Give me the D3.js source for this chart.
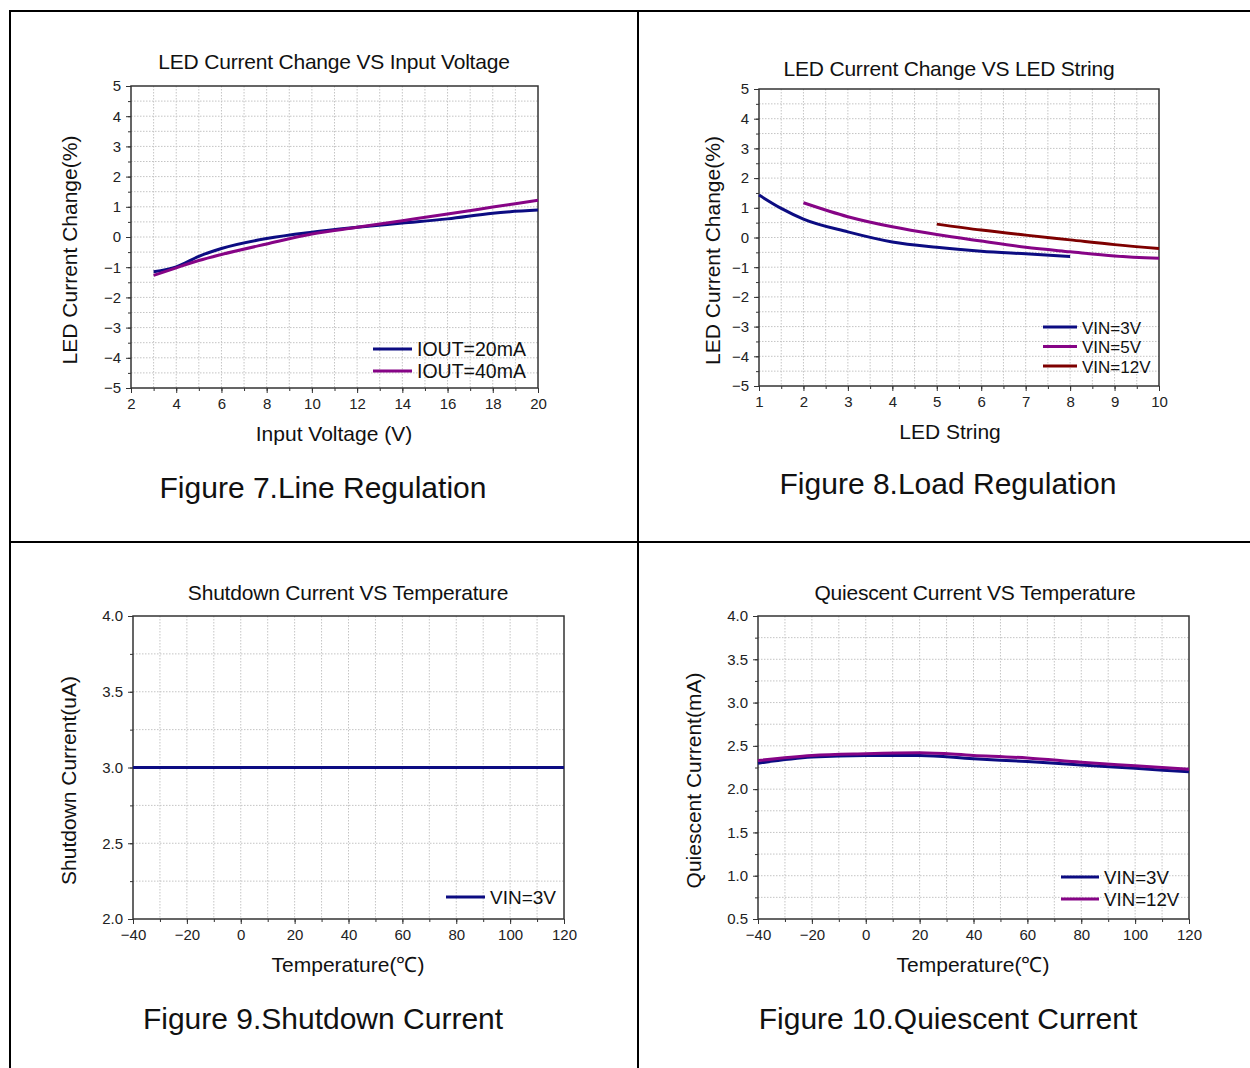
<!DOCTYPE html>
<html>
<head>
<meta charset="utf-8">
<script src="https://cdn.jsdelivr.net/npm/d3@7"></script>
<style>
  body { margin: 0; background: #fff; }
  svg { display: block; font-family: "Liberation Sans", Arial, sans-serif; }
  .grid line { stroke: #c4c4c4; stroke-width: 1; stroke-dasharray: 1.5,1.5; }
  .tick text { fill: #222; }
</style>
</head>
<body>
<svg id="chart" width="1250" height="1068"></svg>
<script>
// Figure 7 - line regulation
var vin = [3, 4, 5, 6, 8, 10, 12, 14, 16, 18, 20];
var iout20 = [-1.15, -0.99, -0.64, -0.38, -0.05, 0.16, 0.32, 0.46, 0.6, 0.79, 0.89];
var iout40 = [-1.27, -1.02, -0.78, -0.58, -0.23, 0.1, 0.32, 0.54, 0.76, 0.99, 1.22];

// Figure 8 - load regulation
var str3 = [1, 1.5, 2, 3, 4, 5, 6, 7, 8];
var vin3 = [1.43, 0.98, 0.62, 0.19, -0.15, -0.33, -0.46, -0.55, -0.64];
var str5 = [2, 3, 4, 5, 6, 7, 8, 9, 10];
var vin5 = [1.17, 0.7, 0.36, 0.1, -0.12, -0.33, -0.48, -0.62, -0.7];
var str12 = [5, 6, 7, 8, 9, 10];
var vin12 = [0.45, 0.25, 0.08, -0.08, -0.24, -0.37];

// Figure 9 - shutdown current
var tempSd = [-40, 120];
var sdVin3 = [3.0, 3.0];

// Figure 10 - quiescent current
var temp = [-40, -20, 0, 20, 40, 60, 80, 100, 120];
var iqVin3 = [2.30, 2.37, 2.39, 2.39, 2.35, 2.32, 2.28, 2.24, 2.20];
var iqVin12 = [2.33, 2.39, 2.41, 2.42, 2.39, 2.36, 2.31, 2.27, 2.23];

var NAVY = "#0c0c82", PURPLE = "#860486", MAROON = "#7e0000";
var svg = d3.select("#chart");

// panel borders
svg.append("line").attr("x1", 9).attr("x2", 1250).attr("y1", 11).attr("y2", 11).attr("stroke", "#000").attr("stroke-width", 2);
svg.append("line").attr("x1", 10).attr("x2", 10).attr("y1", 10).attr("y2", 1068).attr("stroke", "#000").attr("stroke-width", 2);
svg.append("line").attr("x1", 638).attr("x2", 638).attr("y1", 10).attr("y2", 1068).attr("stroke", "#000").attr("stroke-width", 2);
svg.append("line").attr("x1", 10).attr("x2", 1250).attr("y1", 542).attr("y2", 542).attr("stroke", "#000").attr("stroke-width", 2);

function zip(xs, ys) {
  return xs.map(function(x, i) { return [x, ys[i]]; });
}

function range(a, b, step) {
  var out = [];
  for (var v = a; v <= b + step / 1000; v += step) out.push(+v.toFixed(4));
  return out;
}

function chart(c) {
  var x = d3.scaleLinear().domain(c.xDomain).range([c.left, c.right]);
  var y = d3.scaleLinear().domain(c.yDomain).range([c.bottom, c.top]);
  var g = svg.append("g");

  var xMinor = range(c.xDomain[0], c.xDomain[1], c.xMinor);
  var yMinor = range(c.yDomain[0], c.yDomain[1], c.yMinor);

  var grid = g.append("g").attr("class", "grid");
  grid.selectAll(".gx").data(xMinor.slice(1, -1)).enter().append("line")
    .attr("x1", function(d) { return x(d); }).attr("x2", function(d) { return x(d); })
    .attr("y1", c.top).attr("y2", c.bottom);
  grid.selectAll(".gy").data(yMinor.slice(1, -1)).enter().append("line")
    .attr("y1", function(d) { return y(d); }).attr("y2", function(d) { return y(d); })
    .attr("x1", c.left).attr("x2", c.right);

  // minor ticks
  g.append("g").attr("transform", "translate(0," + c.bottom + ")")
    .call(d3.axisBottom(x).tickValues(xMinor).tickSize(3).tickFormat(""))
    .call(function(s) { s.select(".domain").remove(); s.selectAll("line").attr("stroke", "#333"); });
  g.append("g").attr("transform", "translate(" + c.left + ",0)")
    .call(d3.axisLeft(y).tickValues(yMinor).tickSize(3).tickFormat(""))
    .call(function(s) { s.select(".domain").remove(); s.selectAll("line").attr("stroke", "#333"); });

  // major ticks and labels
  g.append("g").attr("transform", "translate(0," + c.bottom + ")")
    .call(d3.axisBottom(x).tickValues(range(c.xDomain[0], c.xDomain[1], c.xMajor)).tickSize(5).tickPadding(5).tickFormat(c.xFormat))
    .call(function(s) {
      s.select(".domain").remove();
      s.selectAll("line").attr("stroke", "#333");
      s.selectAll("text").attr("font-size", 15).attr("font-family", "Liberation Sans, Arial, sans-serif");
    });
  g.append("g").attr("transform", "translate(" + c.left + ",0)")
    .call(d3.axisLeft(y).tickValues(range(c.yDomain[0], c.yDomain[1], c.yMajor)).tickSize(5).tickPadding(5).tickFormat(c.yFormat))
    .call(function(s) {
      s.select(".domain").remove();
      s.selectAll("line").attr("stroke", "#333");
      s.selectAll("text").attr("font-size", 15).attr("font-family", "Liberation Sans, Arial, sans-serif");
    });

  // frame
  g.append("rect").attr("x", c.left).attr("y", c.top)
    .attr("width", c.right - c.left).attr("height", c.bottom - c.top)
    .attr("fill", "none").attr("stroke", "#333").attr("stroke-width", 1.5);

  var line = d3.line()
    .x(function(d) { return x(d[0]); })
    .y(function(d) { return y(d[1]); })
    .curve(d3.curveMonotoneX);

  c.series.forEach(function(s) {
    g.append("path").datum(zip(s.x, s.y))
      .attr("d", line).attr("fill", "none")
      .attr("stroke", s.color).attr("stroke-width", 3).attr("stroke-linejoin", "round");
  });

  // legend
  c.series.forEach(function(s, i) {
    var ly = c.legend.y + i * c.legend.gap;
    g.append("line").attr("x1", c.legend.x).attr("x2", c.legend.x + c.legend.len)
      .attr("y1", ly).attr("y2", ly).attr("stroke", s.color).attr("stroke-width", 3);
    g.append("text").attr("x", c.legend.x + c.legend.len + 5).attr("y", ly + 6.5)
      .attr("font-size", c.legend.size).attr("fill", "#111").text(s.name);
  });

  var mid = (c.left + c.right) / 2;
  g.append("text").attr("x", c.titleX || mid).attr("y", c.titleY)
    .attr("text-anchor", "middle").attr("font-size", 21).attr("fill", "#111")
    .attr("letter-spacing", -0.2).text(c.title);
  g.append("text").attr("x", c.xLabelX || mid).attr("y", c.bottom + 53)
    .attr("text-anchor", "middle").attr("font-size", 21).attr("fill", "#111")
    .text(c.xLabel);
  g.append("text")
    .attr("transform", "translate(" + c.yLabelX + "," + ((c.top + c.bottom) / 2 + 13) + ") rotate(-90)")
    .attr("text-anchor", "middle").attr("font-size", 21).attr("fill", "#111")
    .text(c.yLabel);
  g.append("text").attr("x", c.captionX).attr("y", c.captionY)
    .attr("text-anchor", "middle").attr("font-size", 30).attr("fill", "#111")
    .text(c.caption);
}

var fmtInt = d3.format("d");
var fmt1 = d3.format(".1f");

chart({
  left: 131, right: 538, top: 86, bottom: 388,
  xDomain: [2, 20], xMajor: 2, xMinor: 1, xFormat: fmtInt,
  yDomain: [-5, 5], yMajor: 1, yMinor: 0.5, yFormat: fmtInt,
  title: "LED Current Change VS Input Voltage", titleY: 69, titleX: 334,
  xLabel: "Input Voltage (V)", xLabelX: 334,
  yLabel: "LED Current Change(%)", yLabelX: 77,
  caption: "Figure 7.Line Regulation", captionX: 323, captionY: 498,
  legend: { x: 373, y: 349, gap: 22, len: 39, size: 19.5 },
  series: [
    { name: "IOUT=20mA", x: vin, y: iout20, color: NAVY },
    { name: "IOUT=40mA", x: vin, y: iout40, color: PURPLE }
  ]
});

chart({
  left: 759, right: 1159, top: 89, bottom: 386,
  xDomain: [1, 10], xMajor: 1, xMinor: 0.5, xFormat: fmtInt,
  yDomain: [-5, 5], yMajor: 1, yMinor: 0.5, yFormat: fmtInt,
  title: "LED Current Change VS LED String", titleY: 76, titleX: 949,
  xLabel: "LED String", xLabelX: 950,
  yLabel: "LED Current Change(%)", yLabelX: 720,
  caption: "Figure 8.Load Regulation", captionX: 948, captionY: 494,
  legend: { x: 1043, y: 327, gap: 19.5, len: 34, size: 17 },
  series: [
    { name: "VIN=3V", x: str3, y: vin3, color: NAVY },
    { name: "VIN=5V", x: str5, y: vin5, color: PURPLE },
    { name: "VIN=12V", x: str12, y: vin12, color: MAROON }
  ]
});

chart({
  left: 133, right: 564, top: 616, bottom: 919,
  xDomain: [-40, 120], xMajor: 20, xMinor: 10, xFormat: fmtInt,
  yDomain: [2, 4], yMajor: 0.5, yMinor: 0.25, yFormat: fmt1,
  title: "Shutdown Current VS Temperature", titleY: 600, titleX: 348,
  xLabel: "Temperature(\u2103)", xLabelX: 348,
  yLabel: "Shutdown Current(uA)", yLabelX: 76,
  caption: "Figure 9.Shutdown Current", captionX: 323, captionY: 1029,
  legend: { x: 446, y: 897, gap: 22, len: 39, size: 19 },
  series: [
    { name: "VIN=3V", x: tempSd, y: sdVin3, color: NAVY }
  ]
});

chart({
  left: 758, right: 1189, top: 616, bottom: 919,
  xDomain: [-40, 120], xMajor: 20, xMinor: 10, xFormat: fmtInt,
  yDomain: [0.5, 4], yMajor: 0.5, yMinor: 0.25, yFormat: fmt1,
  title: "Quiescent Current VS Temperature", titleY: 600, titleX: 975,
  xLabel: "Temperature(\u2103)", xLabelX: 973,
  yLabel: "Quiescent Current(mA)", yLabelX: 701,
  caption: "Figure 10.Quiescent Current", captionX: 948, captionY: 1029,
  legend: { x: 1061, y: 877, gap: 22, len: 38, size: 18.7 },
  series: [
    { name: "VIN=3V", x: temp, y: iqVin3, color: NAVY },
    { name: "VIN=12V", x: temp, y: iqVin12, color: PURPLE }
  ]
});
</script>
</body>
</html>
